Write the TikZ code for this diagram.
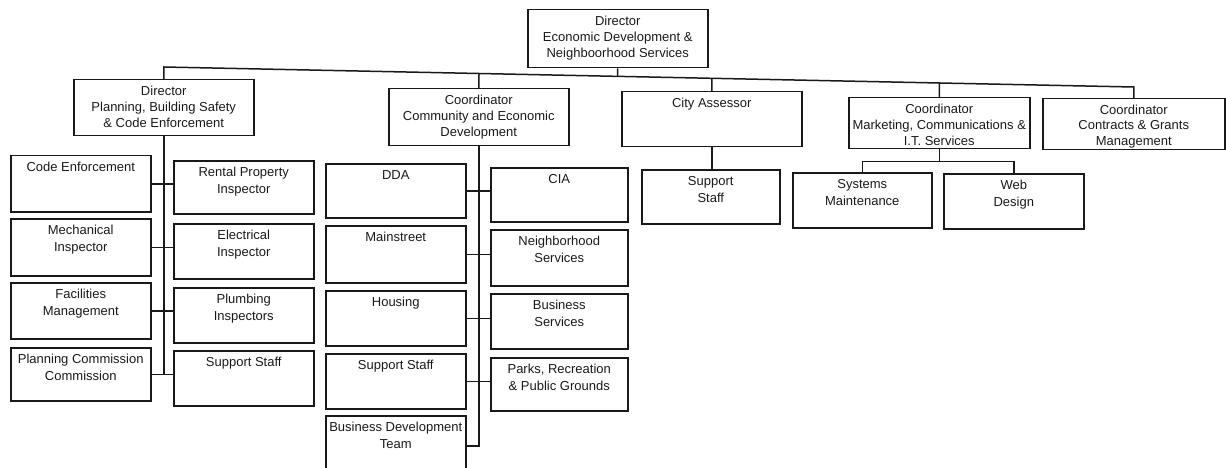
\documentclass[tikz,border=0pt]{standalone}
\usepackage{fontspec}
\setmainfont{Liberation Sans}
\usetikzlibrary{calc}

% box text sits at the top of a fixed-size cell
\newcommand{\cell}[3]{\parbox[t][\dimexpr#2pt-13pt\relax][t]{\dimexpr#1pt-4pt\relax}{\centering #3}}

\begin{document}
\begin{tikzpicture}[x=1pt, y=-1pt, unitbox/.style={draw=black!90, line width=1.5pt, anchor=north west, inner xsep=2pt, inner ysep=6.5pt, font=\fontsize{13}{17}\selectfont, text=black!90}]
            \useasboundingbox (0,0) rectangle (1226,468);
            \clip (0,0) rectangle (1226,468);

            \node[unitbox, font=\fontsize{13}{16}\selectfont] (dir) at (527,9) {\cell{180}{58}{Director\\Economic Development \&\\Neighboorhood Services}};

            \node[unitbox, font=\fontsize{13}{16}\selectfont] (plan) at (73,79) {\cell{180}{56}{Director\\Planning, Building Safety\\\& Code Enforcement}};
            \node[unitbox, font=\fontsize{13}{16}\selectfont] (comm) at (388,88) {\cell{180}{57}{Coordinator\\Community and Economic\\Development}};
            \node[unitbox] (assr) at (621,91) {\cell{180}{55}{City Assessor}};
            \node[unitbox, font=\fontsize{13}{16}\selectfont, inner ysep=6pt] (mktg) at (848,97) {\cell{181}{52}{Coordinator\\Marketing, Communications \&\\I.T. Services}};
            \node[unitbox, font=\fontsize{13}{15.5}\selectfont, inner ysep=6pt] (cntr) at (1042,98) {\cell{182}{52}{Coordinator\\Contracts \& Grants\\Management}};

            \node[unitbox] (ce) at (10,155) {\cell{140}{56}{Code Enforcement}};
            \node[unitbox] (mech) at (10,218) {\cell{140}{57}{Mechanical\\Inspector}};
            \node[unitbox] (fac) at (10,282) {\cell{140}{56}{Facilities\\Management}};
            \node[unitbox] (pc) at (10,347) {\cell{140}{53}{Planning Commission\\Commission}};
            \node[unitbox] (rent) at (173,160) {\cell{140}{53}{Rental Property\\Inspector}};
            \node[unitbox] (elec) at (173,223) {\cell{140}{55}{Electrical\\Inspector}};
            \node[unitbox] (plmb) at (173,287) {\cell{140}{55}{Plumbing\\Inspectors}};
            \node[unitbox] (sup1) at (173,350) {\cell{140}{55}{Support Staff}};

            \node[unitbox] (dda) at (325,163) {\cell{140}{54}{DDA}};
            \node[unitbox] (main) at (325,225) {\cell{140}{57}{Mainstreet}};
            \node[unitbox] (hous) at (325,290) {\cell{140}{55}{Housing}};
            \node[unitbox] (sup2) at (325,353) {\cell{140}{55}{Support Staff}};
            \node[unitbox] (bdt) at (325,415) {\cell{140}{60}{Business Development\\Team}};
            \node[unitbox] (cia) at (490,167) {\cell{137}{54}{CIA}};
            \node[unitbox] (nbhd) at (490,229) {\cell{137}{56}{Neighborhood\\Services}};
            \node[unitbox] (bsvc) at (490,293) {\cell{137}{55}{Business\\Services}};
            \node[unitbox] (park) at (490,357) {\cell{137}{53}{Parks, Recreation\\\& Public Grounds}};

            \node[unitbox] (sup3) at (641,169) {\cell{138}{54}{Support\\Staff}};
            \node[unitbox] (sys) at (792,172) {\cell{139}{55}{Systems\\Maintenance}};
            \node[unitbox] (web) at (943,173) {\cell{140}{55}{Web\\Design}};

            \tikzset{link/.style={draw=black!90, line width=1.5pt}}

            % top level bus
            \coordinate (b1) at ($(plan.north)+(0,-12)$);
            \coordinate (b5) at ($(cntr.north)+(0,-11)$);
            \draw[link] (plan.north) -- (b1) -- (b5) -- (cntr.north);
            \draw[link] (dir.south) -- ($(b1)!(dir.south)!(b5)$);
            \draw[link] (comm.north) -- ($(b1)!(comm.north)!(b5)$);
            \draw[link] (assr.north) -- ($(b1)!(assr.north)!(b5)$);
            \draw[link] (mktg.north) -- ($(b1)!(mktg.north)!(b5)$);

            % planning
            \draw[link] (plan.south) -- (plan.south |- pc.east);
            \draw[link] (ce.east) -- (ce.east -| rent.west);
            \draw[link] (mech.east) -- (mech.east -| elec.west);
            \draw[link] (fac.east) -- (fac.east -| plmb.west);
            \draw[link] (pc.east) -- (pc.east -| sup1.west);

            % community
            \draw[link] (comm.south) |- (bdt.east);
            \draw[link] (dda.east) -- (dda.east -| cia.west);
            \draw[link] (main.east) -- (main.east -| nbhd.west);
            \draw[link] (hous.east) -- (hous.east -| bsvc.west);
            \draw[link] (sup2.east) -- (sup2.east -| park.west);

            % assessor, marketing
            \draw[link] (assr.south) -- (assr.south |- sup3.north);
            \coordinate (mk) at ($(mktg.south)+(0,12)$);
            \draw[link] (mktg.south) -- (mk);
            \draw[link] (sys.north) |- (mk) -| (web.north);

        \end{tikzpicture}
\end{document}
